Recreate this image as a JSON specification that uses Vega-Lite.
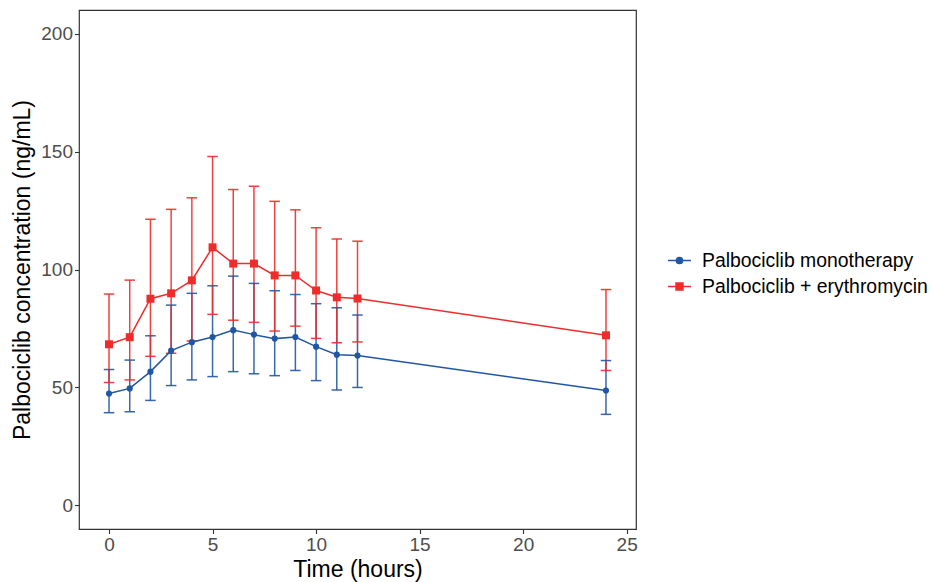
{
  "$schema": "https://vega.github.io/schema/vega-lite/v6.json",
  "width": 557,
  "height": 519,
  "autosize": {"type": "none"},
  "padding": {"left": 79, "top": 10, "right": 297, "bottom": 53},
  "background": "white",
  "config": {
    "font": "Liberation Sans",
    "view": {"stroke": "#333333", "strokeWidth": 1.2},
    "axis": {
      "domain": false,
      "grid": false,
      "tickColor": "#333333",
      "tickSize": 4.5,
      "tickWidth": 1.1,
      "labelColor": "#4D4D4D",
      "labelFontSize": 19,
      "labelPadding": 2,
      "titleFontSize": 23,
      "titleColor": "#000000",
      "titleFontWeight": "normal"
    }
  },
  "data": {
    "values": [
      {"group": "Palbociclib monotherapy", "time": 0, "mean": 47.4, "lo": 39.3, "hi": 57.6},
      {"group": "Palbociclib monotherapy", "time": 1, "mean": 49.6, "lo": 39.7, "hi": 61.6},
      {"group": "Palbociclib monotherapy", "time": 2, "mean": 56.7, "lo": 44.5, "hi": 71.9},
      {"group": "Palbociclib monotherapy", "time": 3, "mean": 65.6, "lo": 50.8, "hi": 84.9},
      {"group": "Palbociclib monotherapy", "time": 4, "mean": 69.2, "lo": 53.2, "hi": 89.9},
      {"group": "Palbociclib monotherapy", "time": 5, "mean": 71.4, "lo": 54.6, "hi": 93.1},
      {"group": "Palbociclib monotherapy", "time": 6, "mean": 74.3, "lo": 56.7, "hi": 97.2},
      {"group": "Palbociclib monotherapy", "time": 7, "mean": 72.4, "lo": 55.8, "hi": 94.1},
      {"group": "Palbociclib monotherapy", "time": 8, "mean": 70.7, "lo": 55.0, "hi": 91.0},
      {"group": "Palbociclib monotherapy", "time": 9, "mean": 71.4, "lo": 57.2, "hi": 89.4},
      {"group": "Palbociclib monotherapy", "time": 10, "mean": 67.3, "lo": 52.9, "hi": 85.5},
      {"group": "Palbociclib monotherapy", "time": 11, "mean": 63.9, "lo": 48.9, "hi": 83.8},
      {"group": "Palbociclib monotherapy", "time": 12, "mean": 63.5, "lo": 50.0, "hi": 80.7},
      {"group": "Palbociclib monotherapy", "time": 24, "mean": 48.7, "lo": 38.6, "hi": 61.4},
      {"group": "Palbociclib + erythromycin", "time": 0, "mean": 68.3, "lo": 52.1, "hi": 89.6},
      {"group": "Palbociclib + erythromycin", "time": 1, "mean": 71.3, "lo": 53.2, "hi": 95.5},
      {"group": "Palbociclib + erythromycin", "time": 2, "mean": 87.6, "lo": 63.2, "hi": 121.3},
      {"group": "Palbociclib + erythromycin", "time": 3, "mean": 89.9, "lo": 64.5, "hi": 125.5},
      {"group": "Palbociclib + erythromycin", "time": 4, "mean": 95.4, "lo": 69.7, "hi": 130.4},
      {"group": "Palbociclib + erythromycin", "time": 5, "mean": 109.4, "lo": 81.0, "hi": 147.9},
      {"group": "Palbociclib + erythromycin", "time": 6, "mean": 102.5, "lo": 78.5, "hi": 133.9},
      {"group": "Palbociclib + erythromycin", "time": 7, "mean": 102.5, "lo": 77.6, "hi": 135.3},
      {"group": "Palbociclib + erythromycin", "time": 8, "mean": 97.5, "lo": 73.9, "hi": 128.9},
      {"group": "Palbociclib + erythromycin", "time": 9, "mean": 97.5, "lo": 76.0, "hi": 125.3},
      {"group": "Palbociclib + erythromycin", "time": 10, "mean": 91.1, "lo": 70.8, "hi": 117.7},
      {"group": "Palbociclib + erythromycin", "time": 11, "mean": 88.2, "lo": 69.0, "hi": 112.9},
      {"group": "Palbociclib + erythromycin", "time": 12, "mean": 87.7, "lo": 69.3, "hi": 112.0},
      {"group": "Palbociclib + erythromycin", "time": 24, "mean": 72.1, "lo": 57.2, "hi": 91.5}
    ]
  },
  "encoding": {
    "x": {
      "field": "time",
      "type": "quantitative",
      "title": "Time (hours)",
      "scale": {"domain": [-1.45, 25.45], "nice": false, "zero": false},
      "axis": {"values": [0, 5, 10, 15, 20, 25], "titlePadding": 4}
    },
    "color": {
      "field": "group",
      "type": "nominal",
      "scale": {
        "domain": ["Palbociclib monotherapy", "Palbociclib + erythromycin"],
        "range": ["#2156A5", "#EE2C2C"]
      },
      "legend": {
        "title": null,
        "orient": "none",
        "legendX": 588,
        "legendY": 238,
        "padding": 0,
        "labelFontSize": 19.4,
        "labelLimit": 0,
        "labelColor": "#000000",
        "labelOffset": 10,
        "rowPadding": 4,
        "symbolSize": 529,
        "symbolStrokeWidth": 1.5,
        "encode": {
          "symbols": {
            "update": {
              "shape": {"signal": "datum.value === 'Palbociclib monotherapy' ? 'M-1,0H1M0.27,0A0.27,0.27,0,1,1,-0.27,0A0.27,0.27,0,1,1,0.27,0Z' : 'M-1,0H1M-0.3,-0.3H0.3V0.3H-0.3Z'"},
              "fill": {"signal": "datum.value === 'Palbociclib monotherapy' ? '#2156A5' : '#EE2C2C'"},
              "stroke": {"signal": "datum.value === 'Palbociclib monotherapy' ? '#2156A5' : '#EE2C2C'"},
              "strokeWidth": {"value": 1.5},
              "size": {"value": 529},
              "opacity": {"value": 1}
            }
          }
        }
      }
    }
  },
  "layer": [
    {
      "mark": {"type": "rule", "strokeWidth": 1.5, "opacity": 0.9},
      "encoding": {
        "y": {
          "field": "lo",
          "type": "quantitative",
          "title": "Palbociclib concentration (ng/mL)",
          "scale": {"domain": [-10, 210], "nice": false, "zero": false},
          "axis": {"values": [0, 50, 100, 150, 200], "titlePadding": 6}
        },
        "y2": {"field": "hi"}
      }
    },
    {
      "mark": {"type": "tick", "orient": "horizontal", "size": 10.5, "thickness": 1.5, "opacity": 0.9},
      "encoding": {"y": {"field": "lo", "type": "quantitative"}}
    },
    {
      "mark": {"type": "tick", "orient": "horizontal", "size": 10.5, "thickness": 1.5, "opacity": 0.9},
      "encoding": {"y": {"field": "hi", "type": "quantitative"}}
    },
    {
      "mark": {"type": "line", "strokeWidth": 1.5},
      "encoding": {"y": {"field": "mean", "type": "quantitative"}}
    },
    {
      "transform": [{"filter": "datum.group === 'Palbociclib monotherapy'"}],
      "mark": {"type": "point", "filled": true, "opacity": 1, "shape": "circle", "size": 38},
      "encoding": {"y": {"field": "mean", "type": "quantitative"}}
    },
    {
      "transform": [{"filter": "datum.group === 'Palbociclib + erythromycin'"}],
      "mark": {"type": "point", "filled": true, "opacity": 1, "shape": "square", "size": 64},
      "encoding": {"y": {"field": "mean", "type": "quantitative"}}
    }
  ]
}
